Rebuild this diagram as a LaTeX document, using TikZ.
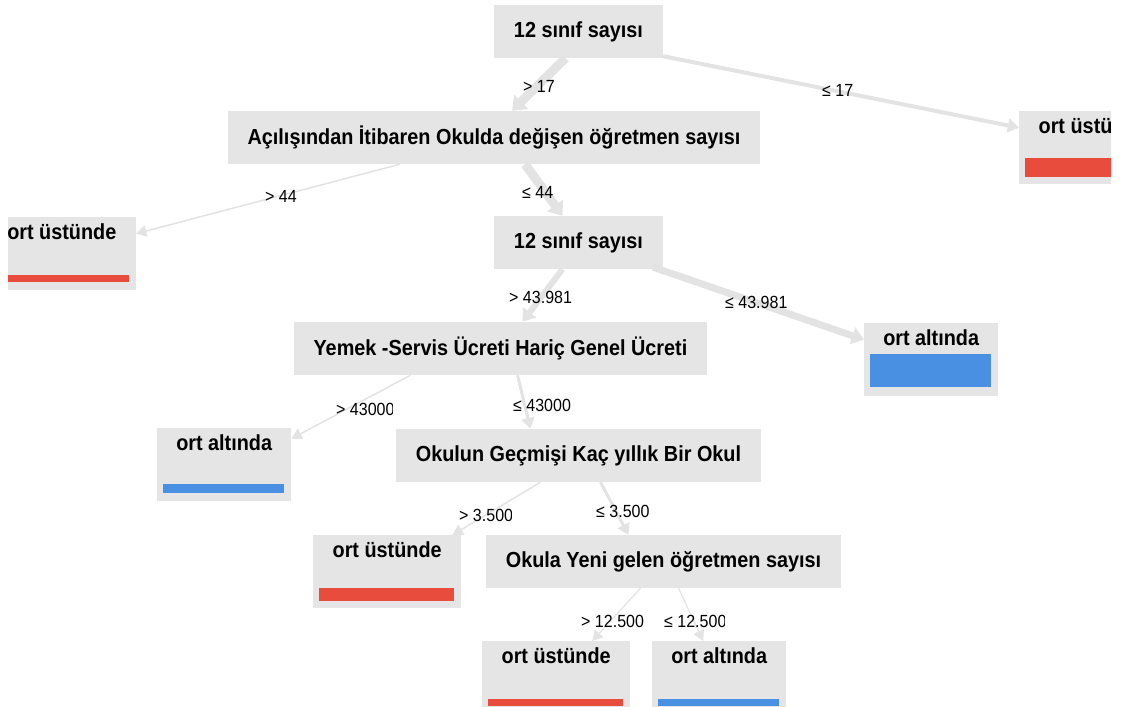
\documentclass[tikz,border=0pt]{standalone}
\usepackage{fontspec}
\setmainfont{Liberation Sans}[FakeStretch=0.91]
\usetikzlibrary{arrows.meta}
\definecolor{boxgray}{RGB}{229,229,229}
\definecolor{linegray}{RGB}{227,227,227}
\definecolor{barred}{RGB}{231,76,60}
\definecolor{barblue}{RGB}{74,144,226}

\begin{document}
\begin{tikzpicture}[x=1pt,y=-1pt,
  test/.style={fill=boxgray, inner xsep=20pt, minimum height=53pt, font=\fontsize{21.8}{23}\selectfont\bfseries},
  leaf/.style={fill=boxgray, inner sep=0pt, text height=22pt, text depth=51pt, font=\fontsize{21.8}{23}\selectfont\bfseries},
  upleaf/.style={leaf, minimum width=148pt},
  lowleaf/.style={leaf, minimum width=134pt},
  branch/.style={draw=linegray, -{Triangle[width=10pt 1,length=10pt 0.3]}},
  cond/.style={anchor=base west, inner sep=0pt, font=\fontsize{17.6}{19}\selectfont}]
\useasboundingbox (0,0) rectangle (1125,707);
\clip (8,0) rectangle (1111,707);

% tests
\node[test] (n1) at (578.5,31.5) {12 sınıf sayısı};
\node[test] (n2) at (494,137.5) {Açılışından İtibaren Okulda değişen öğretmen sayısı};
\node[test] (n3) at (578.5,242.5) {12 sınıf sayısı};
\node[test] (n4) at (500.5,348.5) {Yemek -Servis Ücreti Hariç Genel Ücreti};
\node[test] (n5) at (578.5,455.5) {Okulun Geçmişi Kaç yıllık Bir Okul};
\node[test] (n6) at (663.5,561.5) {Okula Yeni gelen öğretmen sayısı};

% leaves
\node[upleaf, anchor=north west] (l1) at (1019,111) {ort üstünde};
\node[upleaf, anchor=north east] (l2) at (136,217) {ort üstünde};
\node[lowleaf, anchor=north west] (l3) at (864,323) {ort altında};
\node[lowleaf, anchor=north west] (l4) at (157,428) {ort altında};
\node[upleaf, anchor=north west] (l5) at (313,535) {ort üstünde};
\node[upleaf, anchor=north west] (l6) at (482,641) {ort üstünde};
\node[lowleaf, anchor=north west] (l7) at (652,641) {ort altında};

\fill[barred] ([xshift=6pt,yshift=7pt]l1.south west) rectangle ([xshift=-7pt,yshift=26pt]l1.south east);
\fill[barred] ([xshift=6pt,yshift=8pt]l2.south west) rectangle ([xshift=-7pt,yshift=15pt]l2.south east);
\fill[barblue] ([xshift=6pt,yshift=9pt]l3.south west) rectangle ([xshift=-7pt,yshift=42pt]l3.south east);
\fill[barblue] ([xshift=6pt,yshift=8pt]l4.south west) rectangle ([xshift=-7pt,yshift=17pt]l4.south east);
\fill[barred] ([xshift=6pt,yshift=7pt]l5.south west) rectangle ([xshift=-7pt,yshift=20pt]l5.south east);
\fill[barred] ([xshift=6pt,yshift=8pt]l6.south west) rectangle ([xshift=-7pt,yshift=15pt]l6.south east);
\fill[barblue] ([xshift=6pt,yshift=8pt]l7.south west) rectangle ([xshift=-7pt,yshift=15pt]l7.south east);

% branches
\draw[branch, line width=9pt] ([xshift=-13pt]n1.south) -- ([xshift=18pt]n2.north);
\draw[branch, line width=4pt] ([yshift=2pt]n1.south east) -- ([yshift=20pt]l1.west);
\draw[branch, line width=1.5pt] ([xshift=-94pt]n2.south) -- ([yshift=20pt]l2.east);
\draw[branch, line width=9pt] ([xshift=31pt]n2.south) -- ([xshift=-16pt]n3.north);
\draw[branch, line width=6pt] ([xshift=-16pt]n3.south) -- ([xshift=22pt]n4.north);
\draw[branch, line width=7pt] ([xshift=-10pt,yshift=2pt]n3.south east) -- ([yshift=20pt]l3.west);
\draw[branch, line width=1.5pt] ([xshift=-90pt]n4.south) -- ([yshift=26pt]l4.east);
\draw[branch, line width=3pt] ([xshift=17pt]n4.south) -- ([xshift=-48pt]n5.north);
\draw[branch, line width=1.5pt] ([xshift=-38pt]n5.south) -- ([xshift=-9pt]l5.north east);
\draw[branch, line width=3pt] ([xshift=22pt]n5.south) -- ([xshift=-35pt]n6.north);
\draw[branch, line width=1.2pt] ([xshift=-23pt]n6.south) -- ([xshift=36pt]l6.north);
\draw[branch, line width=1.2pt] ([xshift=15pt]n6.south) -- ([xshift=-16pt]l7.north);

% conditions
\node[cond] (c1) at (523,92) {> 17};
\node[cond] (c2) at (822,96) {≤ 17};
\node[cond] (c3) at (265,202) {> 44};
\node[cond] (c4) at (522,198) {≤ 44};
\node[cond] (c5) at (509,303) {> 43.981};
\node[cond] (c6) at (725,308) {≤ 43.981};
\begin{scope}
  \clip (330,390) rectangle (392,420);
  \node[cond] (c7) at (336,415) {> 43000};
\end{scope}
\begin{scope}
  \clip (505,390) rectangle (572,420);
  \node[cond] (c8) at (513,411) {≤ 43000};
\end{scope}
\begin{scope}
  \clip (450,500) rectangle (511,530);
  \node[cond] (c9) at (459,521) {> 3.500};
\end{scope}
\begin{scope}
  \clip (590,495) rectangle (650,525);
  \node[cond] (c10) at (596,517) {≤ 3.500};
\end{scope}
\begin{scope}
  \clip (575,605) rectangle (644,635);
  \node[cond] (c11) at (581,627) {> 12.500};
\end{scope}
\begin{scope}
  \clip (655,605) rectangle (724,635);
  \node[cond] (c12) at (664,627) {≤ 12.500};
\end{scope}
\end{tikzpicture}
\end{document}
